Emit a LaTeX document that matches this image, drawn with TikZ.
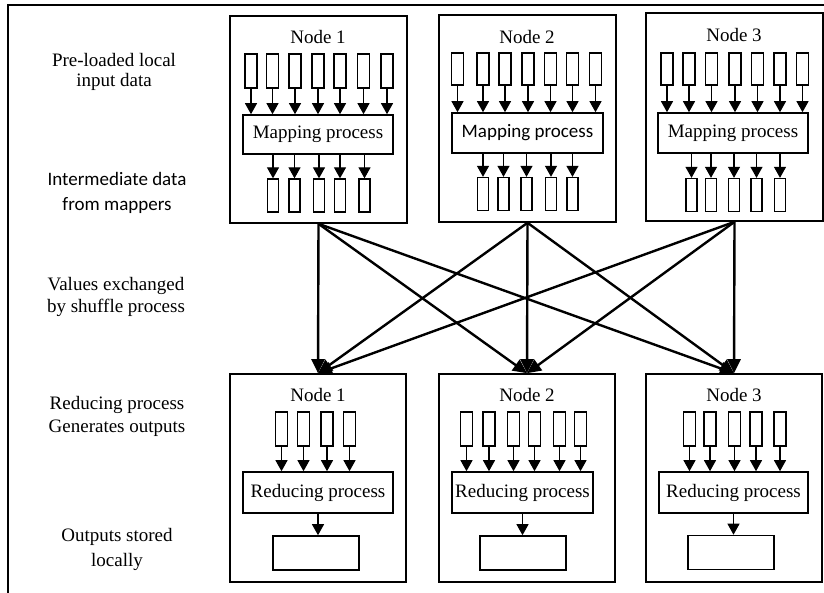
\documentclass[tikz,border=0pt]{standalone}
\usepackage{fontspec}
\IfFontExistsTF{LiberationSerif-Regular.ttf}
  {\newfontfamily\serf{LiberationSerif-Regular.ttf}}
  {\newfontfamily\serf{lmroman10-regular.otf}}
\newfontfamily\sansf{Carlito}
\usetikzlibrary{arrows.meta}
\begin{document}
\begin{tikzpicture}[x=1pt,y=-1pt,
  every node/.style={font=\serf\fontsize{19}{22}\selectfont},
  frame/.style={draw, line width=1.6pt, inner sep=0pt},
  cell/.style={draw, line width=1.3pt, minimum width=12pt, minimum height=33pt, inner sep=0pt},
  lcell/.style={cell, minimum width=11pt},
  proc/.style={draw, line width=1.6pt, minimum width=150pt, minimum height=40pt, inner sep=0pt},
  outbox/.style={draw, line width=1.6pt, minimum width=86pt, minimum height=34pt, inner sep=0pt},
  sarrow/.style={-{Triangle[length=11pt,width=12pt]}, line width=1.1pt},
  barrow/.style={-{Triangle[length=14pt,width=13pt]}, line width=2.4pt},
  lbl/.style={align=center}
]
\useasboundingbox (0,0) rectangle (824,593);
\fill[white] (0,0) rectangle (824,593);
\coordinate (fa) at (8,593); \coordinate (fb) at (8,5); \coordinate (fc) at (824,5);
\draw[line width=1.6pt] (fa) -- (fb) -- (fc);

% left labels
\node[lbl, font=\serf\fontsize{19}{20}\selectfont] (L1) at (114,72) {Pre-loaded local\\input data};
\node[lbl, font=\sansf\fontsize{19}{25}\selectfont] (L2) at (117,192.5) {Intermediate data\\from mappers};
\node[lbl, font=\serf\fontsize{19}{22}\selectfont] (L3) at (116,297) {Values exchanged\\by shuffle process};
\node[lbl, font=\serf\fontsize{19}{23}\selectfont] (L4) at (117,416.5) {Reducing process\\Generates outputs};
\node[lbl, font=\serf\fontsize{19}{25}\selectfont] (L5) at (117,549.5) {Outputs stored\\locally};

% top boxes
\node[frame, minimum width=177pt, minimum height=207pt] (T1) at (318.5,119.5) {};
\node[frame, minimum width=177pt, minimum height=207pt] (T2) at (527.5,118.5) {};
\node[frame, minimum width=177pt, minimum height=208pt] (T3) at (734.5,117) {};
\node (T1l) at (318,37) {Node 1};
\node (T2l) at (527,37) {Node 2};
\node (T3l) at (734,35) {Node 3};

\node[proc, minimum height=39pt] (M1) at (318,134.5) {Mapping process};
\node[proc, minimum width=151pt, font=\sansf\fontsize{19}{22}\selectfont] (M2) at (527.5,133) {Mapping process};
\node[proc] (M3) at (733,133) {Mapping process};

\foreach \x [count=\i] in {251,272.5,295,318,340,363.5,387} {
  \node[cell, minimum height=34pt] (a1\i) at (\x,71) {};
  \draw[sarrow] (a1\i.south) -- (a1\i.south |- M1.north);
}
\foreach \x [count=\i] in {273,294.5,319,340,364.5} {
  \node[lcell] (b1\i) at (\x,195.5) {};
  \draw[sarrow] (M1.south -| b1\i.north) -- (b1\i.north);
}
\foreach \x [count=\i] in {457.5,483,505,528,550.5,572.5,595.5} {
  \node[cell, minimum height=32pt] (a2\i) at (\x,69) {};
  \draw[sarrow] (a2\i.south) -- (a2\i.south |- M2.north);
}
\foreach \x [count=\i] in {483,503.5,526.5,551,572.5} {
  \node[lcell] (b2\i) at (\x,194) {};
  \draw[sarrow] (M2.south -| b2\i.north) -- (b2\i.north);
}
\foreach \x [count=\i] in {667,689,711.5,735,757.5,780,802.5} {
  \node[cell, minimum height=32pt] (a3\i) at (\x,69) {};
  \draw[sarrow] (a3\i.south) -- (a3\i.south |- M3.north);
}
\foreach \x [count=\i] in {691.5,711,734,756.5,780} {
  \node[lcell] (b3\i) at (\x,195) {};
  \draw[sarrow] (M3.south -| b3\i.north) -- (b3\i.north);
}

% bottom boxes
\node[frame, minimum width=176pt, minimum height=208pt] (B1) at (318,478) {};
\node[frame, minimum width=176pt, minimum height=208pt] (B2) at (527,478) {};
\node[frame, minimum width=176pt, minimum height=208pt] (B3) at (734,478) {};
\node (B1l) at (318,395) {Node 1};
\node (B2l) at (527,395) {Node 2};
\node (B3l) at (734,395) {Node 3};

\node[proc, minimum height=41pt] (R1) at (318,492.5) {Reducing process};
\node[proc, minimum width=141pt, minimum height=41pt] (R2) at (522.5,492.5) {Reducing process};
\node[proc, minimum width=149pt, minimum height=41pt] (R3) at (733.5,492.5) {Reducing process};

\foreach \x [count=\i] in {281.5,303.5,327,349.5} {
  \node[cell, minimum height=34pt] (c1\i) at (\x,429) {};
  \draw[sarrow] (c1\i.south) -- (c1\i.south |- R1.north);
}
\foreach \x [count=\i] in {466.5,489,513.5,534.5,559.5,580.5} {
  \node[cell, minimum height=34pt] (c2\i) at (\x,429) {};
  \draw[sarrow] (c2\i.south) -- (c2\i.south |- R2.north);
}
\foreach \x [count=\i] in {689.5,710,734.5,756,780} {
  \node[cell, minimum height=34pt] (c3\i) at (\x,429) {};
  \draw[sarrow] (c3\i.south) -- (c3\i.south |- R3.north);
}

\node[outbox] (O1) at (316,553) {};
\node[outbox] (O2) at (523,553) {};
\node[outbox] (O3) at (731,552.5) {};
\draw[sarrow] (R1.south) -- (R1.south |- O1.north);
\draw[sarrow] (R2.south) -- (R2.south |- O2.north);
\draw[sarrow] (R3.south) -- (R3.south |- O3.north);

% shuffle arrows
\foreach \s in {T1,T2,T3} {
  \foreach \t in {B1,B2,B3} {
    \draw[barrow] (\s.south) -- (\t.north);
  }
}
\end{tikzpicture}
\end{document}
